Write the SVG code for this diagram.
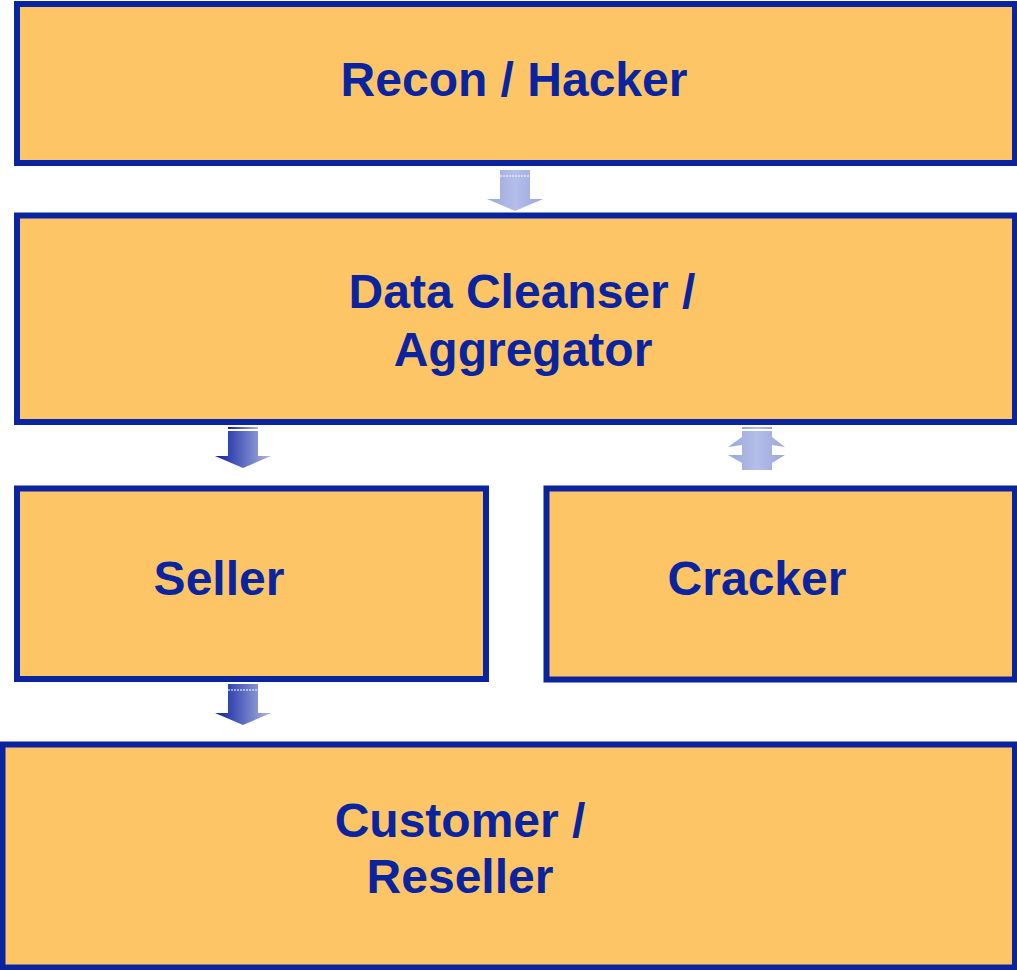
<svg xmlns="http://www.w3.org/2000/svg" width="1017" height="970" viewBox="0 0 1017 970">
<style>
.box{fill:#FEC567;stroke:#0A24A0;stroke-width:6}
.lbl{font-family:"Liberation Sans",Arial,sans-serif;font-weight:bold;font-size:48px;fill:#0A24A0;text-anchor:middle}
</style>
<defs>
<linearGradient id="gLight" x1="0" y1="0" x2="1" y2="0">
<stop offset="0" stop-color="#9AA6DE"/><stop offset="0.5" stop-color="#B4BEE8"/><stop offset="1" stop-color="#9AA6DE"/>
</linearGradient>
<linearGradient id="gDark" x1="0" y1="0" x2="1" y2="0">
<stop offset="0" stop-color="#0A1EA0"/><stop offset="1" stop-color="#B0B8E0"/>
</linearGradient>
</defs>
<rect width="1017" height="970" fill="#FFFFFF"/>
<g id="recon"><rect class="box" x="17" y="4" width="998" height="159"/><text class="lbl" x="514" y="96">Recon / Hacker</text></g>
<g id="cleanser"><rect class="box" x="17" y="215.5" width="998" height="206.5"/><text class="lbl" x="522" y="308">Data Cleanser /</text><text class="lbl" x="523" y="366">Aggregator</text></g>
<g id="seller"><rect class="box" x="17" y="488.5" width="469" height="190.5"/><text class="lbl" x="219" y="595">Seller</text></g>
<g id="cracker"><rect class="box" x="546.5" y="488.5" width="468.5" height="191"/><text class="lbl" x="757" y="595">Cracker</text></g>
<g id="customer"><rect class="box" x="2.5" y="744.5" width="1012.5" height="223"/><text class="lbl" x="460" y="837">Customer /</text><text class="lbl" x="460" y="893">Reseller</text></g>
<g id="connectors">
<polygon points="500,170 530,170 530,199 543,199 515,211 487,199 500,199" fill="url(#gLight)"/>
<line x1="500" y1="176" x2="530" y2="176" stroke="#FFFFFF" stroke-width="1" stroke-dasharray="2,1"/>
<rect x="228" y="427" width="30" height="2" fill="url(#gDark)"/>
<polygon points="228,431 258,431 258,456 271,456 243,468 215,456 228,456" fill="url(#gDark)"/>
<rect x="742" y="427" width="30" height="2" fill="url(#gLight)"/>
<polygon points="742,431 772,431 772,437 785,447 772,445 772,455 785,455 772,463 772,470 742,470 742,463 728,455 742,455 742,445 728,447 742,437" fill="url(#gLight)"/>
<polygon points="228,684 258,684 258,713 271,713 243,725 215,713 228,713" fill="url(#gDark)"/>
<line x1="228" y1="690" x2="258" y2="690" stroke="#FFFFFF" stroke-width="1" stroke-dasharray="2,1"/>
</g>
</svg>
